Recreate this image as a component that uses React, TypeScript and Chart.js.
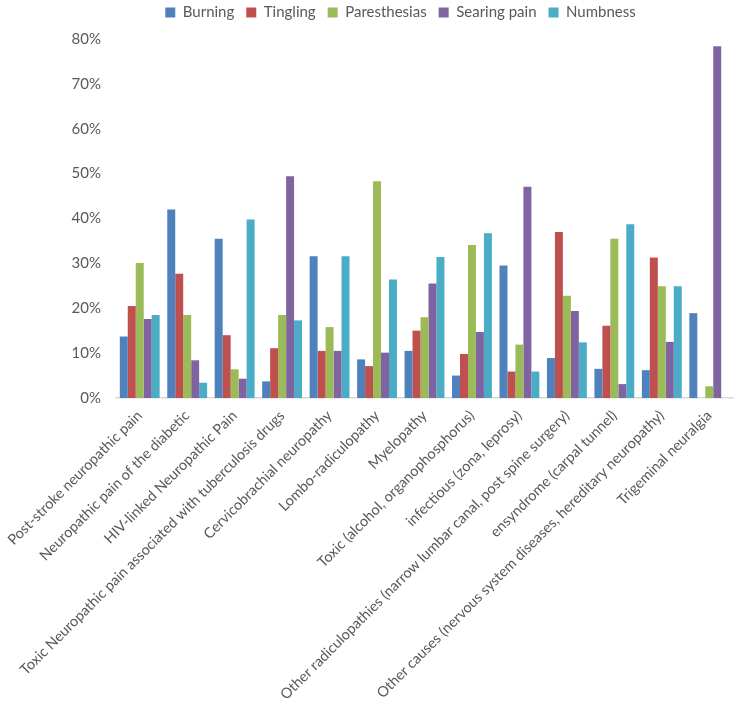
import React, { useEffect, useRef } from "react";
import { Chart, registerables } from "chart.js";

Chart.register(...registerables);

const categories = [
  "Post-stroke neuropathic pain",
  "Neuropathic pain of the diabetic",
  "HIV-linked Neuropathic Pain",
  "Toxic Neuropathic pain associated with tuberculosis drugs",
  "Cervicobrachial neuropathy",
  "Lombo-radiculopathy",
  "Myelopathy",
  "Toxic (alcohol, organophosphorus)",
  "infectious (zona, leprosy)",
  "Other radiculopathies (narrow lumbar canal, post spine surgery)",
  "ensyndrome (carpal tunnel)",
  "Other causes (nervous system diseases, hereditary neuropathy)",
  "Trigeminal neuralgia",
];

const seriesNames = ["Burning", "Tingling", "Paresthesias", "Searing pain", "Numbness"];

const burning = [13.7, 42.0, 35.5, 3.7, 31.6, 8.6, 10.5, 5.0, 29.5, 8.9, 6.5, 6.2, 18.9];
const tingling = [20.5, 27.7, 14.0, 11.1, 10.5, 7.1, 15.0, 9.8, 5.9, 37.0, 16.1, 31.3, 0];
const paresthesias = [30.1, 18.5, 6.4, 18.5, 15.8, 48.3, 18.0, 34.1, 11.9, 22.8, 35.5, 24.9, 2.6];
const searingPain = [17.6, 8.4, 4.3, 49.4, 10.5, 10.1, 25.5, 14.7, 47.1, 19.4, 3.1, 12.5, 78.4];
const numbness = [18.5, 3.4, 39.8, 17.3, 31.6, 26.4, 31.4, 36.7, 5.9, 12.4, 38.7, 24.9, 0];

const seriesValues = [burning, tingling, paresthesias, searingPain, numbness];
const seriesColors = ["#4F81BD", "#C0504D", "#9BBB59", "#8064A2", "#4BACC6"];

const yMax = 80;
const yStep = 10;

const FONT = "Lato, 'Open Sans', sans-serif";

const legendShift = {
  id: "legendShift",
  afterLayout(chart: any) {
    const lg = chart.legend;
    if (!lg) return;
    lg.left += 34;
    lg.right += 34;
    lg.top -= 9;
    lg.bottom -= 9;
  },
};

export default function App() {
  const canvasRef = useRef<HTMLCanvasElement | null>(null);

  useEffect(() => {
    const canvas = canvasRef.current;
    if (!canvas) return;
    const chart = new Chart(canvas, {
      type: "bar",
      data: {
        labels: categories,
        datasets: seriesNames.map((name, i) => ({
          label: name,
          data: seriesValues[i],
          backgroundColor: seriesColors[i],
          borderWidth: 0,
          barPercentage: 1,
          categoryPercentage: 0.84,
        })),
      },
      plugins: [legendShift],
      options: {
        responsive: false,
        animation: false,
        devicePixelRatio: 1,
        layout: { padding: { left: 0, right: 5, top: 2, bottom: 0 } },
        plugins: {
          tooltip: { enabled: false },
          legend: {
            position: "top",
            labels: {
              boxWidth: 10,
              boxHeight: 10,
              padding: 12,
              color: "#595959",
              font: { family: FONT, size: 15 },
            },
          },
        },
        scales: {
          x: {
            grid: { display: false, drawTicks: false },
            border: { display: true, color: "#D9D9D9", width: 1.5 },
            ticks: {
              autoSkip: false,
              maxRotation: 45,
              minRotation: 45,
              padding: 9,
              color: "#595959",
              font: { family: FONT, size: 14.5 },
            },
            afterFit: (scale: any) => {
              scale.height = 320;
              scale.paddingLeft = 0;
              scale.paddingRight = 0;
            },
          },
          y: {
            min: 0,
            max: yMax,
            grid: { display: false, drawTicks: false },
            border: { display: false },
            ticks: {
              stepSize: yStep,
              padding: 15,
              color: "#595959",
              font: { family: FONT, size: 15 },
              callback: (v: any) => v + "%",
            },
            afterFit: (scale: any) => {
              scale.width = 116;
            },
          },
        },
      },
    });
    return () => chart.destroy();
  }, []);

  return (
    <div style={{ position: "fixed", left: 0, top: 0, width: 738, height: 718, background: "#fff" }}>
      <canvas ref={canvasRef} width={738} height={718} style={{ width: 738, height: 718 }} />
    </div>
  );
}
